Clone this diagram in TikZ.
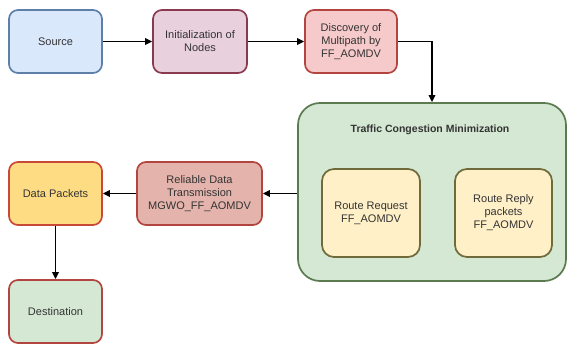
\documentclass[tikz,border=0pt]{standalone}
\usepackage{fontspec}
\setmainfont{Liberation Sans}
\usetikzlibrary{arrows.meta}
\definecolor{srcfill}{HTML}{DAE8FC}
\definecolor{srcline}{HTML}{5E7FA8}
\definecolor{pinkfill}{HTML}{E8D0DC}
\definecolor{pinkline}{HTML}{8A3A4E}
\definecolor{redfill}{HTML}{F6CACA}
\definecolor{redline}{HTML}{B2453F}
\definecolor{relfill}{HTML}{E4B4AC}
\definecolor{grnfill}{HTML}{D5E8D4}
\definecolor{grnline}{HTML}{5C7A50}
\definecolor{ylwfill}{HTML}{FFF0C8}
\definecolor{ylwline}{HTML}{6E6A3A}
\definecolor{dpfill}{HTML}{FDDC84}
\definecolor{dpline}{HTML}{C84A36}
\definecolor{txt}{HTML}{333333}
\tikzset{
  box/.style={draw, line width=1.7pt, rounded corners=9pt, inner sep=0pt,
    align=center, font=\fontsize{11}{13}\selectfont, text=txt},
  link/.style={line width=1.9pt, -{Triangle[length=7pt,width=6.5pt]}}
}
\begin{document}
\begin{tikzpicture}[x=1pt,y=-1pt]
\useasboundingbox (0,0) rectangle (568,347);
% top row
\node[box, fill=srcfill, draw=srcline, minimum width=93pt, minimum height=63pt] (src) at (55.5,41.5) {Source};
\node[box, fill=pinkfill, draw=pinkline, minimum width=94pt, minimum height=63pt] (init) at (200,41.5) {Initialization of\\Nodes};
\node[box, fill=redfill, draw=redline, minimum width=92pt, minimum height=63pt] (disc) at (351,41.5) {Discovery of\\Multipath by\\FF\_AOMDV};
% congestion minimization group
\node[box, fill=grnfill, draw=grnline, rounded corners=22pt, minimum width=268pt, minimum height=178pt] (tcm) at (432,192) {};
\node[font=\bfseries\fontsize{10.5}{12.5}\selectfont, text=txt] (tcmt) at (430,130) {Traffic Congestion Minimization};
\node[box, fill=ylwfill, draw=ylwline, rounded corners=12pt, minimum width=98pt, minimum height=88pt] (rreq) at (371,213) {Route Request\\FF\_AOMDV};
\node[box, fill=ylwfill, draw=ylwline, rounded corners=12pt, minimum width=97pt, minimum height=88pt] (rrep) at (503.5,213) {Route Reply\\packets\\FF\_AOMDV};
% lower left
\node[box, fill=relfill, draw=redline, minimum width=125pt, minimum height=63pt] (rel) at (199.5,193.5) {Reliable Data\\Transmission\\MGWO\_FF\_AOMDV};
\node[box, fill=dpfill, draw=dpline, minimum width=93pt, minimum height=63pt] (dp) at (55.5,193.5) {Data Packets};
\node[box, fill=grnfill, draw=redline, minimum width=93pt, minimum height=63pt] (dst) at (55.5,311.5) {Destination};
% connectors
\draw[link] (src) -- (init);
\draw[link] (init) -- (disc);
\draw[link] (disc.east) -| (tcm.north);
\draw[link] (tcm.west |- rel.east) -- (rel.east);
\draw[link] (rel) -- (dp);
\draw[link] (dp) -- (dst);
\end{tikzpicture}
\end{document}
